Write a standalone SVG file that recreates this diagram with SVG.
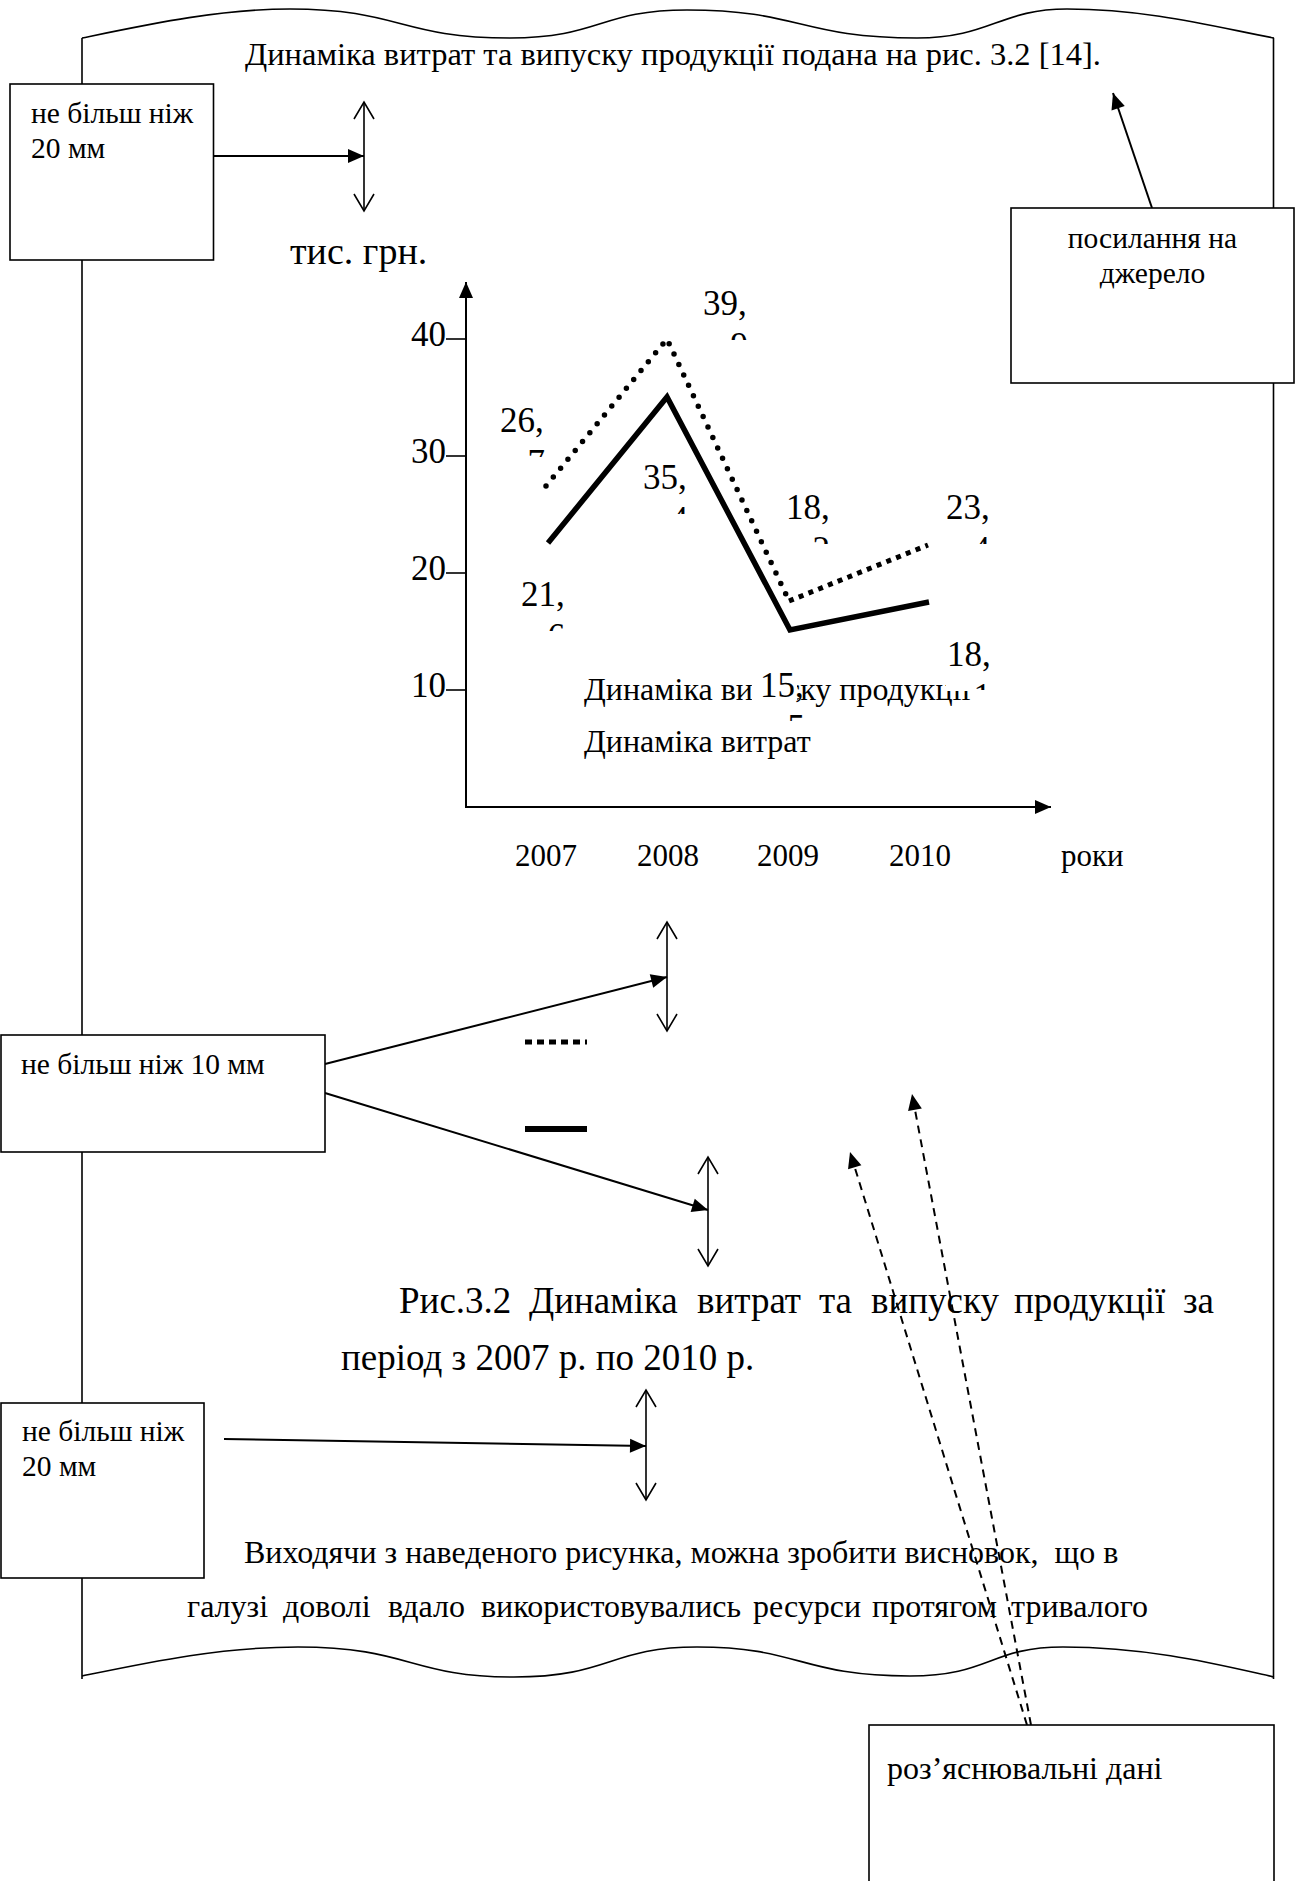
<svg xmlns="http://www.w3.org/2000/svg" width="1304" height="1881" viewBox="0 0 1304 1881">
<style>
text{font-family:"Liberation Serif","Times New Roman",serif;fill:#000}
.box{fill:#fff;stroke:#000;stroke-width:1.6}
.bt{font-size:29.5px}
.page{fill:none;stroke:#000;stroke-width:1.6}
.con{fill:none;stroke:#000;stroke-width:2}
.dash{fill:none;stroke:#000;stroke-width:2;stroke-dasharray:8 6}
.dbl{fill:none;stroke:#000;stroke-width:1.6}
.lbl{font-size:35px}
.tick{font-size:35px}
.yr{font-size:31px}
.body{font-size:32px}
.cap{font-size:37px}
</style>
<defs>
<marker id="ah" markerUnits="userSpaceOnUse" markerWidth="17" markerHeight="15" refX="16" refY="7" orient="auto" overflow="visible">
<path d="M0,0 L16,7 L0,14 z" fill="#000"/>
</marker>
<marker id="vh" markerUnits="userSpaceOnUse" markerWidth="19" markerHeight="22" refX="17" refY="10" orient="auto-start-reverse" overflow="visible">
<path d="M0,0 L17,10 L0,20" fill="none" stroke="#000" stroke-width="1.6"/>
</marker>
<clipPath id="c26"><rect x="495" y="400" width="60" height="57"/></clipPath>
<clipPath id="c39"><rect x="698" y="283" width="60" height="57"/></clipPath>
<clipPath id="c35"><rect x="638" y="457" width="60" height="57"/></clipPath>
<clipPath id="c18a"><rect x="781" y="487" width="60" height="57"/></clipPath>
<clipPath id="c23"><rect x="941" y="487" width="60" height="57"/></clipPath>
<clipPath id="c21"><rect x="516" y="574" width="60" height="57"/></clipPath>
<clipPath id="c15"><rect x="755" y="663" width="60" height="58"/></clipPath>
<clipPath id="c18b"><rect x="942" y="633" width="60" height="57"/></clipPath>
</defs>
<rect width="1304" height="1881" fill="#fff"/>

<g id="page">
<path class="page" d="M82,38 C150,24 220,9 290,9 C400,9 400,38 510,38 C600,38 600,10 687,10 C800,10 800,38 917,38 C990,38 1000,9 1067,9 C1150,9 1220,28 1274,38"/>
<path class="page" d="M82,1676 C150,1662 220,1647 298,1647 C410,1647 410,1677 514,1677 C610,1677 610,1647 697,1647 C800,1647 800,1676 910,1676 C990,1676 990,1647 1063,1647 C1150,1647 1220,1665 1274,1677"/>
<line class="page" x1="82" y1="38" x2="82" y2="1679"/>
<line class="page" x1="1273.5" y1="38" x2="1273.5" y2="1679"/>
</g>

<g id="heading">
<text x="245" y="65" style="font-size:32.5px">Динаміка витрат та випуску продукції подана на рис. 3.2 [14].</text>
</g>

<g id="chart">
<line class="con" x1="466" y1="808" x2="466" y2="282" marker-end="url(#ah)"/>
<line class="con" x1="465" y1="807" x2="1051" y2="807" marker-end="url(#ah)"/>
<g stroke="#000" stroke-width="1.6">
<line x1="446" y1="339" x2="466" y2="339"/>
<line x1="446" y1="456" x2="466" y2="456"/>
<line x1="446" y1="573" x2="466" y2="573"/>
<line x1="446" y1="690" x2="466" y2="690"/>
</g>
<text class="tick" x="446" y="346" text-anchor="end">40</text>
<text class="tick" x="446" y="463" text-anchor="end">30</text>
<text class="tick" x="446" y="580" text-anchor="end">20</text>
<text class="tick" x="446" y="697" text-anchor="end">10</text>
<text x="290" y="264" style="font-size:38px">тис. грн.</text>
<text class="yr" x="515" y="866">2007</text>
<text class="yr" x="637" y="866">2008</text>
<text class="yr" x="757" y="866">2009</text>
<text class="yr" x="889" y="866">2010</text>
<text class="yr" x="1061" y="866">роки</text>
<polyline points="548,543 667,397 790,630 929,602" fill="none" stroke="#000" stroke-width="5.5" stroke-linejoin="miter"/>
<polyline points="546,486 667,339 789,601" fill="none" stroke="#000" stroke-width="5.5" stroke-linecap="round" stroke-dasharray="0 11.5"/>
<line x1="789" y1="601" x2="928" y2="545" stroke="#000" stroke-width="5" stroke-dasharray="5 5.5"/>
<text x="584" y="700" style="font-size:32px">Динаміка випуску продукції</text>
<text x="584" y="752" style="font-size:32px">Динаміка витрат</text>
<g clip-path="url(#c26)"><text class="lbl" x="500" y="432">26,</text><text class="lbl" x="545" y="474" text-anchor="end">7</text></g>
<g clip-path="url(#c39)"><text class="lbl" x="703" y="315">39,</text><text class="lbl" x="748" y="357" text-anchor="end">9</text></g>
<g clip-path="url(#c35)"><text class="lbl" x="643" y="489">35,</text><text class="lbl" x="688" y="531" text-anchor="end">4</text></g>
<g clip-path="url(#c18a)"><text class="lbl" x="786" y="519">18,</text><text class="lbl" x="830" y="561" text-anchor="end">2</text></g>
<g clip-path="url(#c23)"><text class="lbl" x="946" y="519">23,</text><text class="lbl" x="990" y="561" text-anchor="end">4</text></g>
<g clip-path="url(#c21)"><text class="lbl" x="521" y="606">21,</text><text class="lbl" x="565" y="648" text-anchor="end">6</text></g>
<rect x="752" y="663" width="45" height="58" fill="#fff"/>
<g clip-path="url(#c15)"><text class="lbl" x="760" y="697">15,</text><text class="lbl" x="805" y="739" text-anchor="end">5</text></g>
<rect x="946" y="633" width="50" height="58" fill="#fff"/>
<g clip-path="url(#c18b)"><text class="lbl" x="947" y="666">18,</text><text class="lbl" x="991" y="708" text-anchor="end">1</text></g>
</g>

<g id="legend-keys">
<line x1="525" y1="1042" x2="587" y2="1042" stroke="#000" stroke-width="5" stroke-dasharray="7 5"/>
<line x1="525" y1="1129" x2="587" y2="1129" stroke="#000" stroke-width="6"/>
</g>

<g id="caption">
<text class="cap" y="1313"><tspan x="399">Рис.3.2</tspan><tspan x="529">Динаміка</tspan><tspan x="697">витрат</tspan><tspan x="819">та</tspan><tspan x="871">випуску</tspan><tspan x="1014">продукції</tspan><tspan x="1183">за</tspan></text>
<text class="cap" x="341" y="1370">період з 2007 р. по 2010 р.</text>
</g>

<g id="body-text">
<text class="body" x="244" y="1563" xml:space="preserve">Виходячи з наведеного рисунка, можна зробити висновок,  що в</text>
<text class="body" y="1617"><tspan x="187">галузі</tspan><tspan x="283">доволі</tspan><tspan x="388">вдало</tspan><tspan x="481">використовувались</tspan><tspan x="753">ресурси</tspan><tspan x="872">протягом</tspan><tspan x="1011">тривалого</tspan></text>
</g>

<g id="connectors">
<line class="con" x1="203" y1="156" x2="364" y2="156" marker-end="url(#ah)"/>
<line class="con" x1="325" y1="1064" x2="667" y2="977" marker-end="url(#ah)"/>
<line class="con" x1="325" y1="1093" x2="708" y2="1210" marker-end="url(#ah)"/>
<line class="con" x1="224" y1="1439" x2="646" y2="1446" marker-end="url(#ah)"/>
<line class="con" x1="1152" y1="208" x2="1113" y2="93" marker-end="url(#ah)"/>
<line class="dash" x1="1027" y1="1725" x2="850" y2="1152" marker-end="url(#ah)"/>
<line class="dash" x1="1031" y1="1725" x2="912" y2="1094" marker-end="url(#ah)"/>
<line class="dbl" x1="364" y1="102" x2="364" y2="211" marker-start="url(#vh)" marker-end="url(#vh)"/>
<line class="dbl" x1="667" y1="922" x2="667" y2="1031" marker-start="url(#vh)" marker-end="url(#vh)"/>
<line class="dbl" x1="708" y1="1157" x2="708" y2="1266" marker-start="url(#vh)" marker-end="url(#vh)"/>
<line class="dbl" x1="646" y1="1390" x2="646" y2="1500" marker-start="url(#vh)" marker-end="url(#vh)"/>
</g>

<g id="box-top-left">
<rect class="box" x="10" y="84" width="203.5" height="176"/>
<text class="bt" x="31" y="123">не більш ніж</text>
<text class="bt" x="31" y="158">20 мм</text>
</g>
<g id="box-source">
<rect class="box" x="1011" y="208" width="283" height="175"/>
<text class="bt" x="1152.5" y="248" text-anchor="middle">посилання на</text>
<text class="bt" x="1152.5" y="283" text-anchor="middle">джерело</text>
</g>
<g id="box-10mm">
<rect class="box" x="1" y="1035" width="324" height="117"/>
<text class="bt" x="21" y="1074">не більш ніж 10 мм</text>
</g>
<g id="box-bottom-left">
<rect class="box" x="1" y="1403" width="203" height="175"/>
<text class="bt" x="22" y="1441">не більш ніж</text>
<text class="bt" x="22" y="1476">20 мм</text>
</g>
<g id="box-explain">
<rect class="box" x="869" y="1725" width="405" height="180"/>
<text x="887" y="1779" style="font-size:32px">роз’яснювальні дані</text>
</g>
</svg>
